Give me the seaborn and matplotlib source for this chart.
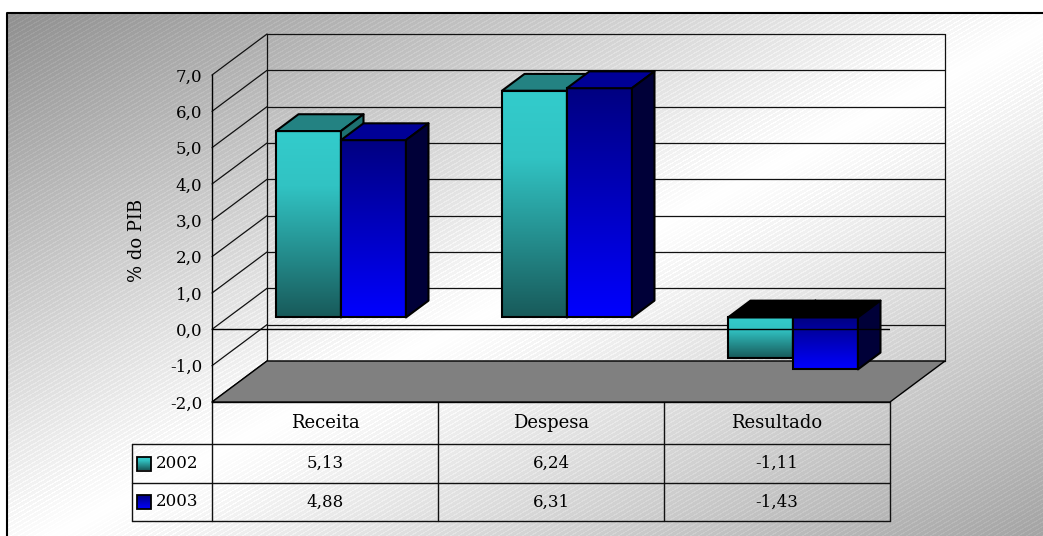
import numpy as np
import pandas as pd
import matplotlib
matplotlib.use('Agg')
import matplotlib.pyplot as plt
import seaborn as sns
from matplotlib.colors import LinearSegmentedColormap
from matplotlib.patches import Polygon, Rectangle

# ---------------- data ----------------
categorias = ['Receita', 'Despesa', 'Resultado']
anos = ['2002', '2003']
valores_2002 = [5.13, 6.24, -1.11]
valores_2003 = [4.88, 6.31, -1.43]
y_ticks = [-2, -1, 0, 1, 2, 3, 4, 5, 6, 7]
y_label = '% do PIB'

sns.set_style('white')
plt.rcParams['font.family'] = ['DejaVu Serif']

W, H = 1043, 536
fig = plt.figure(figsize=(W / 100, H / 100), dpi=100)
fig.patch.set_facecolor('white')


def rect(x0, ytop, x1, ybot):
    return [x0 / W, 1 - ybot / H, (x1 - x0) / W, (ybot - ytop) / H]


# ---------------- background ----------------
ax_bg = fig.add_axes([0, 0, 1, 1])
ax_bg.set_zorder(0)
yy, xx = np.mgrid[0:H, 0:W]
s = xx / W + yy / H
PEAK = 1.05
g = np.where(s < PEAK, 140 + 115 * s / PEAK, 255 - 96 * (s - PEAK))
stripe = ((xx * 0.5 + yy * 0.866) % 4.0) < 1.2
g = g + 10 * stripe
g = np.clip(g, 0, 255) / 255.0
g[(xx < 7) | (yy < 13)] = 1
ax_bg.imshow(np.dstack([g, g, g]), extent=(0, W, H, 0), origin='upper',
             interpolation='nearest', aspect='auto', zorder=0)
ax_bg.plot([7, 7, W + 5], [H + 5, 13, 13], color='black', lw=1.5, zorder=1,
           clip_on=False)
ax_bg.set_xlim(0, W)
ax_bg.set_ylim(H, 0)
ax_bg.axis('off')

# ---------------- geometry of the 3D frame ----------------
PX0, PX1, PYT, PYB = 212, 890, 75, 402
XLIM = (-0.5, len(categorias) - 0.5)
YLIM = (y_ticks[0], y_ticks[-1])
ux = (PX1 - PX0) / (XLIM[1] - XLIM[0])
uy = (PYB - PYT) / (YLIM[1] - YLIM[0])
DPX, DPY = 55, 41
DX, DY = DPX / ux, DPY / uy
BAR_OFF, BAR_DEPTH = 0.29, 0.41

ax = fig.add_axes(rect(PX0, PYT, PX1, PYB))
ax.set_zorder(1)
ax.patch.set_visible(False)
ax.set_xlim(XLIM)
ax.set_ylim(YLIM)
for sp in ['top', 'right', 'bottom']:
    ax.spines[sp].set_visible(False)
ax.spines['left'].set_linewidth(1.0)
ax.spines['left'].set_color('black')
ax.set_xticks([])
ax.set_yticks(y_ticks)
ax.set_yticklabels([f'{v:.1f}'.replace('.', ',') for v in y_ticks])
ax.tick_params(axis='y', direction='out', length=5, width=1, pad=2,
               labelsize=12, colors='black')

lc = '#111111'
for v in y_ticks:
    ax.plot([XLIM[0] + DX, XLIM[1] + DX], [v + DY, v + DY], color=lc, lw=0.9,
            clip_on=False, zorder=1)
    ax.plot([XLIM[0], XLIM[0] + DX], [v, v + DY], color=lc, lw=0.9,
            clip_on=False, zorder=1)
for xe in XLIM:
    ax.plot([xe + DX, xe + DX], [YLIM[0] + DY, YLIM[1] + DY], color=lc, lw=0.9,
            clip_on=False, zorder=1)
floor = Polygon([(XLIM[0], YLIM[0]), (XLIM[1], YLIM[0]),
                 (XLIM[1] + DX, YLIM[0] + DY), (XLIM[0] + DX, YLIM[0] + DY)],
                closed=True, facecolor='#808080', edgecolor='black', lw=1.0,
                clip_on=False, zorder=2)
ax.add_patch(floor)

# ---------------- bars ----------------
ox, oy = BAR_OFF * DPX, BAR_OFF * DPY
ax_bar = fig.add_axes(rect(PX0 + ox, PYT - oy, PX1 + ox, PYB - oy))
ax_bar.set_zorder(2)
df = pd.DataFrame({
    'Categoria': categorias * 2,
    'Valor': valores_2002 + valores_2003,
    'Ano': [anos[0]] * len(categorias) + [anos[1]] * len(categorias),
})
sns.barplot(data=df, x='Categoria', y='Valor', hue='Ano', order=categorias,
            hue_order=anos, palette=['#33CCCC', '#0000FF'], width=0.575,
            errorbar=None, legend=False, saturation=1, ax=ax_bar)

styles = {
    '2002': dict(cmap=LinearSegmentedColormap.from_list(
        'c02', [(0, '#33CCCC'), (0.3, '#31C3C3'), (1, '#185A5A')]),
        top='#238282', side='#1D7070'),
    '2003': dict(cmap=LinearSegmentedColormap.from_list(
        'c03', [(0, '#000080'), (1, '#0000FF')]),
        top='#000096', side='#000038'),
}
grad = np.linspace(0, 1, 256).reshape(-1, 1)
bdx, bdy = BAR_DEPTH * DX, BAR_DEPTH * DY
for k, (ano, cont) in enumerate(zip(anos, ax_bar.containers)):
    st = styles[ano]
    z = 2 + 2 * k
    for p in cont.patches:
        x, w = p.get_x(), p.get_width()
        y0, h = p.get_y(), p.get_height()
        lo, hi = min(y0, y0 + h), max(y0, y0 + h)
        im = ax_bar.imshow(grad, extent=(x, x + w, lo, hi), origin='upper',
                           cmap=st['cmap'], aspect='auto', zorder=z,
                           interpolation='bilinear')
        im.set_clip_path(p)
        p.set_facecolor('none')
        p.set_edgecolor('black')
        p.set_linewidth(1.5)
        p.set_zorder(z + 0.5)
        topc = st['top'] if h >= 0 else 'black'
        ax_bar.add_patch(Polygon([(x, hi), (x + w, hi), (x + w + bdx, hi + bdy),
                                  (x + bdx, hi + bdy)], closed=True,
                                 facecolor=topc, edgecolor='black', lw=1.5,
                                 joinstyle='round', zorder=z + 0.6,
                                 clip_on=False))
        ax_bar.add_patch(Polygon([(x + w, lo), (x + w, hi),
                                  (x + w + bdx, hi + bdy), (x + w + bdx, lo + bdy)],
                                 closed=True, facecolor=st['side'],
                                 edgecolor='black', lw=1.5, joinstyle='round',
                                 zorder=z + 0.6, clip_on=False))
ax_bar.set_xlim(XLIM)
ax_bar.set_ylim(YLIM)
ax_bar.axis('off')
ax_bar.patch.set_visible(False)

# zero line in front
ax_top = fig.add_axes(rect(PX0, PYT, PX1, PYB))
ax_top.set_zorder(3)
ax_top.set_xlim(XLIM)
ax_top.set_ylim(YLIM)
ax_top.axis('off')
ax_top.plot(XLIM, [0, 0], color='black', lw=1.0)

# ---------------- y label ----------------
ax_bg.text(137, 240, y_label, rotation=90, ha='center', va='center',
           fontsize=13, color='black')

# ---------------- data table ----------------
col_x = [PX0 + i * ux for i in range(len(categorias) + 1)]
row_y = [402, 444, 483, 521]
LEG_X = 132
tl = dict(color='#111111', lw=1.0, zorder=3)
for yv in row_y[1:]:
    ax_bg.plot([LEG_X, PX1], [yv, yv], **tl)
ax_bg.plot([PX0, PX1], [row_y[0], row_y[0]], **tl)
for xv in col_x:
    ax_bg.plot([xv, xv], [row_y[0], row_y[-1]], **tl)
ax_bg.plot([LEG_X, LEG_X], [row_y[1], row_y[-1]], **tl)

for i, c in enumerate(categorias):
    cx = (col_x[i] + col_x[i + 1]) / 2
    ax_bg.text(cx, (row_y[0] + row_y[1]) / 2, c, ha='center', va='center',
               fontsize=13, color='black', zorder=4)
    for r, vals in enumerate([valores_2002, valores_2003]):
        ax_bg.text(cx, (row_y[r + 1] + row_y[r + 2]) / 2,
                   f'{vals[i]:.2f}'.replace('.', ','), ha='center',
                   va='center', fontsize=12, color='black', zorder=4)

for r, ano in enumerate(anos):
    cy = (row_y[r + 1] + row_y[r + 2]) / 2
    st = styles[ano]
    key = Rectangle((137, cy - 7), 14, 14, facecolor='none', edgecolor='black',
                    lw=1.3, zorder=5)
    ax_bg.add_patch(key)
    kim = ax_bg.imshow(grad, extent=(137, 151, cy + 7, cy - 7), origin='upper',
                       cmap=st['cmap'], aspect='auto', zorder=4)
    kim.set_clip_path(key)
    ax_bg.text(156, cy, ano, ha='left', va='center', fontsize=12,
               color='black', zorder=4)

ax_bg.set_xlim(0, W)
ax_bg.set_ylim(H, 0)

fig.savefig('out.png', dpi=100)
